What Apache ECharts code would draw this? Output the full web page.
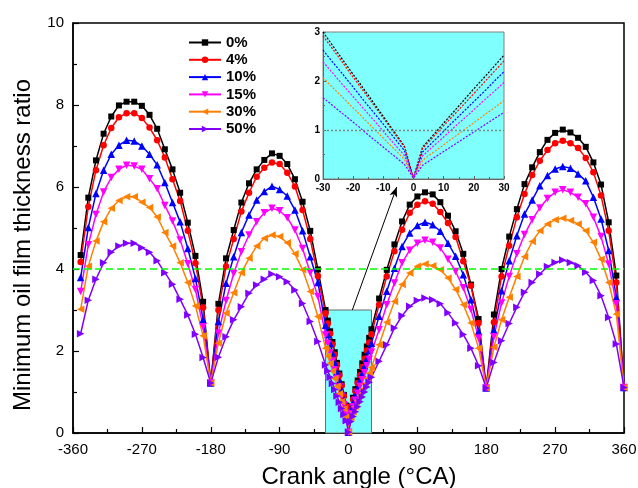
<!DOCTYPE html>
<html>
<head>
<meta charset="utf-8">
<script src="https://cdn.jsdelivr.net/npm/echarts@6/dist/echarts.min.js"></script>
<style>
  html, body { margin: 0; padding: 0; background: #fff; }
  #chart { width: 638px; height: 488px; }
</style>
</head>
<body>
<div id="chart"></div>
<script>
  // crank angle (deg CA), 10 deg steps, denser around TDC (0)
  var angles = [
    -350, -340, -330, -320, -310, -300, -290, -280, -270, -260, -250, -240, -230, -220, -210, -200, -190,
    -180,
    -170, -160, -150, -140, -130, -120, -110, -100, -90, -80, -70, -60, -50, -40,
    -30, -27, -24, -21, -18, -15, -12, -9, -6, -3, 0, 3, 6, 9, 12, 15, 18, 21, 24, 27, 30,
    40, 50, 60, 70, 80, 90, 100, 110, 120, 130, 140, 150, 160, 170,
    180,
    190, 200, 210, 220, 230, 240, 250, 260, 270, 280, 290, 300, 310, 320, 330, 340, 350,
    360
  ];

  var ratio0 = [
    4.34, 5.74, 6.65, 7.30, 7.72, 7.99, 8.08, 8.08, 7.98, 7.76, 7.42, 6.92, 6.43, 5.86, 5.13, 4.32, 3.20,
    1.22,
    3.15, 4.26, 4.95, 5.62, 6.09, 6.43, 6.66, 6.82, 6.76, 6.56, 6.19, 5.64, 4.93, 3.99,
    3.00, 2.74, 2.48, 2.22, 1.97, 1.71, 1.45, 1.19, 0.93, 0.67, 0.02, 0.65, 0.86, 1.07, 1.28, 1.49, 1.70, 1.91, 2.11, 2.32, 2.53,
    3.28, 3.98, 4.60, 5.16, 5.57, 5.77, 5.87, 5.82, 5.63, 5.30, 4.92, 4.37, 3.62, 2.78,
    1.10,
    2.89, 4.00, 4.79, 5.46, 6.07, 6.48, 6.85, 7.15, 7.32, 7.40, 7.33, 7.20, 6.98, 6.60, 6.06, 5.14, 3.84,
    1.11
  ];
  var ratio4 = [
    4.17, 5.52, 6.41, 7.02, 7.44, 7.70, 7.80, 7.80, 7.68, 7.45, 7.14, 6.72, 6.19, 5.66, 4.93, 4.14, 3.06,
    1.22,
    3.00, 4.06, 4.73, 5.40, 5.86, 6.25, 6.47, 6.60, 6.56, 6.35, 6.01, 5.44, 4.73, 3.83,
    2.92, 2.67, 2.42, 2.16, 1.91, 1.66, 1.41, 1.16, 0.90, 0.65, 0.02, 0.62, 0.82, 1.02, 1.22, 1.41, 1.61, 1.81, 2.01, 2.21, 2.41,
    3.13, 3.82, 4.43, 4.96, 5.37, 5.57, 5.65, 5.59, 5.39, 5.12, 4.78, 4.19, 3.59, 2.68,
    1.10,
    2.70, 3.82, 4.57, 5.26, 5.83, 6.29, 6.64, 6.90, 7.07, 7.13, 7.07, 6.95, 6.71, 6.36, 5.79, 4.93, 3.67,
    1.11
  ];
  var ratio10 = [
    3.79, 5.01, 5.84, 6.41, 6.80, 7.02, 7.14, 7.12, 7.00, 6.80, 6.54, 6.11, 5.62, 5.15, 4.50, 3.77, 2.77,
    1.22,
    2.72, 3.65, 4.30, 4.89, 5.32, 5.68, 5.89, 6.02, 5.94, 5.78, 5.44, 4.93, 4.30, 3.67,
    2.63, 2.40, 2.18, 1.95, 1.72, 1.49, 1.27, 1.04, 0.81, 0.58, 0.02, 0.55, 0.73, 0.91, 1.10, 1.28, 1.46, 1.64, 1.82, 2.01, 2.19,
    2.85, 3.46, 4.02, 4.55, 4.88, 5.06, 5.14, 5.08, 4.92, 4.63, 4.31, 3.86, 3.25, 2.48,
    1.10,
    2.51, 3.47, 4.20, 4.81, 5.34, 5.68, 6.03, 6.28, 6.44, 6.50, 6.46, 6.32, 6.15, 5.75, 5.22, 4.45, 3.31,
    1.11
  ];
  var ratio15 = [
    3.45, 4.59, 5.33, 5.88, 6.23, 6.43, 6.53, 6.51, 6.43, 6.20, 5.96, 5.55, 5.17, 4.71, 4.13, 3.50, 2.59,
    1.22,
    2.43, 3.23, 3.89, 4.42, 4.83, 5.15, 5.37, 5.48, 5.42, 5.25, 4.95, 4.50, 3.91, 3.33,
    2.39, 2.18, 1.96, 1.75, 1.54, 1.33, 1.12, 0.90, 0.69, 0.48, 0.02, 0.47, 0.64, 0.80, 0.97, 1.14, 1.30, 1.47, 1.64, 1.80, 1.97,
    2.52, 3.13, 3.66, 4.15, 4.46, 4.63, 4.70, 4.65, 4.51, 4.24, 3.94, 3.54, 3.01, 2.32,
    1.10,
    2.35, 3.17, 3.82, 4.37, 4.84, 5.20, 5.49, 5.72, 5.87, 5.93, 5.87, 5.75, 5.59, 5.26, 4.79, 4.12, 3.15,
    1.11
  ];
  var ratio30 = [
    3.02, 4.07, 4.68, 5.15, 5.48, 5.67, 5.76, 5.76, 5.63, 5.50, 5.27, 4.89, 4.56, 4.15, 3.67, 3.10, 2.37,
    1.22,
    2.19, 2.92, 3.42, 3.91, 4.26, 4.56, 4.75, 4.83, 4.79, 4.64, 4.37, 3.98, 3.45, 2.84,
    2.07, 1.88, 1.70, 1.51, 1.33, 1.14, 0.96, 0.77, 0.59, 0.40, 0.02, 0.38, 0.52, 0.65, 0.79, 0.92, 1.06, 1.19, 1.33, 1.46, 1.60,
    2.15, 2.70, 3.21, 3.62, 3.90, 4.07, 4.12, 4.08, 3.98, 3.78, 3.50, 3.13, 2.68, 2.07,
    1.10,
    2.09, 2.76, 3.31, 3.82, 4.30, 4.67, 4.93, 5.10, 5.20, 5.24, 5.18, 5.10, 4.93, 4.65, 4.24, 3.67, 2.90,
    1.11
  ];
  var ratio50 = [
    2.42, 3.24, 3.75, 4.15, 4.41, 4.56, 4.63, 4.63, 4.52, 4.41, 4.20, 3.91, 3.63, 3.26, 2.88, 2.41, 1.84,
    1.22,
    1.85, 2.35, 2.76, 3.08, 3.41, 3.61, 3.75, 3.88, 3.81, 3.69, 3.49, 3.16, 2.72, 2.23,
    1.66, 1.51, 1.36, 1.21, 1.06, 0.90, 0.75, 0.60, 0.45, 0.30, 0.02, 0.28, 0.40, 0.52, 0.64, 0.76, 0.88, 1.00, 1.12, 1.24, 1.36,
    1.75, 2.15, 2.56, 2.86, 3.09, 3.23, 3.29, 3.25, 3.15, 2.93, 2.68, 2.40, 2.07, 1.64,
    1.10,
    1.72, 2.25, 2.67, 3.07, 3.43, 3.67, 3.88, 4.06, 4.16, 4.22, 4.16, 4.08, 3.92, 3.72, 3.35, 2.82, 2.17,
    1.11
  ];

  var names = ['0%', '4%', '10%', '15%', '30%', '50%'];
  var ratios = [ratio0, ratio4, ratio10, ratio15, ratio30, ratio50];
  var colors = ['#000000', '#ff0000', '#0000ff', '#ff00ff', '#ff8000', '#8000ff'];
  var symbols = ['rect', 'circle', 'triangle', 'triangle', 'triangle', 'triangle'];
  var rotates = [0, 0, 0, 180, 90, -90];
  var sizes = [6, 6.5, 7.5, 7.5, 7.5, 7.5];

  var font = "'Liberation Sans', Arial, sans-serif";
  var chart = echarts.init(document.getElementById('chart'));

  function pairs(ys) {
    return angles.map(function (a, i) { return [a, ys[i]]; });
  }
  function insetPairs(ys) {
    return pairs(ys).filter(function (p) { return p[0] >= -30 && p[0] <= 30; });
  }

  var series = [];
  ratios.forEach(function (ys, i) {
    var s = {
      type: 'line',
      name: names[i],
      xAxisIndex: 0,
      yAxisIndex: 0,
      data: pairs(ys),
      symbol: symbols[i],
      symbolSize: sizes[i],
      symbolRotate: rotates[i],
      lineStyle: { width: 1.5, color: colors[i] },
      itemStyle: { color: colors[i] },
      emphasis: { disabled: true },
      z: 3
    };
    if (i === 0) {
      s.markArea = {
        silent: true,
        label: { show: false },
        itemStyle: { color: '#80ffff', borderColor: '#6a6a6a', borderWidth: 1 },
        data: [[{ coord: [-30, 0] }, { coord: [30, 3] }]]
      };
      s.markLine = {
        silent: true,
        symbol: ['none', 'none'],
        label: { show: false },
        lineStyle: { color: '#00ff00', type: [7, 4], width: 1.5 },
        data: [{ yAxis: 4, lineStyle: { color: '#00ff00', type: [7, 4], width: 1.5 } }]
      };
    }
    if (i === 1) {
      s.markLine = {
        silent: true,
        symbol: ['none', 'arrow'],
        symbolSize: [6, 10],
        label: { show: false },
        lineStyle: { color: '#000', type: 'solid', width: 1 },
        data: [[
          { coord: [5, 3], lineStyle: { color: '#000', type: 'solid', width: 1 }, itemStyle: { color: '#000' } },
          { coord: [63, 6], itemStyle: { color: '#000' } }
        ]]
      };
    }
    series.push(s);
  });

  ratios.forEach(function (ys, i) {
    series.push({
      type: 'line',
      name: 'inset ' + names[i],
      xAxisIndex: 1,
      yAxisIndex: 1,
      data: insetPairs(ys),
      showSymbol: false,
      lineStyle: { width: 1.2, type: [2, 1.5], color: colors[i] },
      itemStyle: { color: colors[i] },
      emphasis: { disabled: true },
      silent: true
    });
  });

  // dotted reference line at ratio = 1 inside the inset
  series.push({
    type: 'line',
    name: 'inset ref',
    xAxisIndex: 1,
    yAxisIndex: 1,
    data: [],
    silent: true,
    color: '#7a8a7a',
    itemStyle: { color: '#7a8a7a' },
    lineStyle: { color: '#7a8a7a' },
    markLine: {
      silent: true,
      symbol: ['none', 'none'],
      label: { show: false },
      lineStyle: { color: '#7a8a7a', type: [2, 2], width: 1.3 },
      data: [{ yAxis: 1, lineStyle: { color: '#7a8a7a', type: [2, 2], width: 1.3 } }]
    }
  });

  var option = {
    animation: false,
    textStyle: { fontFamily: font },
    legend: {
      data: names,
      orient: 'vertical',
      left: 188,
      top: 35,
      padding: 0,
      itemWidth: 32,
      itemHeight: 8,
      itemGap: 2.3,
      selectedMode: false,
      textStyle: { fontSize: 15, fontWeight: 'bold', color: '#000', lineHeight: 15, fontFamily: font }
    },
    grid: [
      { left: 73, top: 23, right: 14, bottom: 55, outerBoundsMode: 'none', containLabel: false,
        show: true, borderColor: '#000', borderWidth: 1.5 },
      { left: 323, top: 32, width: 181, height: 147, outerBoundsMode: 'none', containLabel: false,
        show: true, backgroundColor: '#80ffff', borderColor: '#808080', borderWidth: 1 }
    ],
    xAxis: [
      {
        type: 'value', gridIndex: 0, min: -360, max: 360, interval: 90,
        axisLine: { show: true, onZero: false, lineStyle: { color: '#000', width: 1.5 } },
        axisTick: { inside: true, length: 6, lineStyle: { color: '#000', width: 1.2 } },
        minorTick: { show: true, splitNumber: 2, length: 4, lineStyle: { color: '#000', width: 1.2 } },
        splitLine: { show: false },
        axisLabel: { color: '#000', fontSize: 15, margin: 9, fontFamily: font },
        name: 'Crank angle (°CA)', nameLocation: 'middle', nameGap: 32,
        nameTextStyle: { color: '#000', fontSize: 24, fontFamily: font, padding: [0, 0, 0, 21] }
      },
      {
        type: 'value', gridIndex: 1, min: -30, max: 30, interval: 10,
        axisLine: { show: true, onZero: false, lineStyle: { color: '#666', width: 1 } },
        axisTick: { inside: true, length: 3, lineStyle: { color: '#666' } },
        minorTick: { show: true, splitNumber: 2, length: 2, lineStyle: { color: '#666' } },
        splitLine: { show: false },
        axisLabel: { color: '#000', fontSize: 10, fontWeight: 'bold', margin: 4, fontFamily: font }
      }
    ],
    yAxis: [
      {
        type: 'value', gridIndex: 0, min: 0, max: 10, interval: 2,
        axisLine: { show: true, onZero: false, lineStyle: { color: '#000', width: 1.5 } },
        axisTick: { inside: true, length: 6, lineStyle: { color: '#000', width: 1.2 } },
        minorTick: { show: true, splitNumber: 2, length: 4, lineStyle: { color: '#000', width: 1.2 } },
        splitLine: { show: false },
        axisLabel: { color: '#000', fontSize: 15, margin: 9, fontFamily: font },
        name: 'Minimum oil film thickness ratio', nameLocation: 'middle', nameGap: 38,
        nameTextStyle: { color: '#000', fontSize: 24, fontFamily: font, padding: [0, 34, 0, 0] }
      },
      {
        type: 'value', gridIndex: 1, min: 0, max: 3, interval: 1,
        axisLine: { show: true, onZero: false, lineStyle: { color: '#666', width: 1 } },
        axisTick: { inside: true, length: 3, lineStyle: { color: '#666' } },
        minorTick: { show: true, splitNumber: 2, length: 2, lineStyle: { color: '#666' } },
        splitLine: { show: false },
        axisLabel: { color: '#000', fontSize: 10, fontWeight: 'bold', margin: 3, fontFamily: font }
      }
    ],
    series: series
  };

  chart.setOption(option);
</script>
</body>
</html>
